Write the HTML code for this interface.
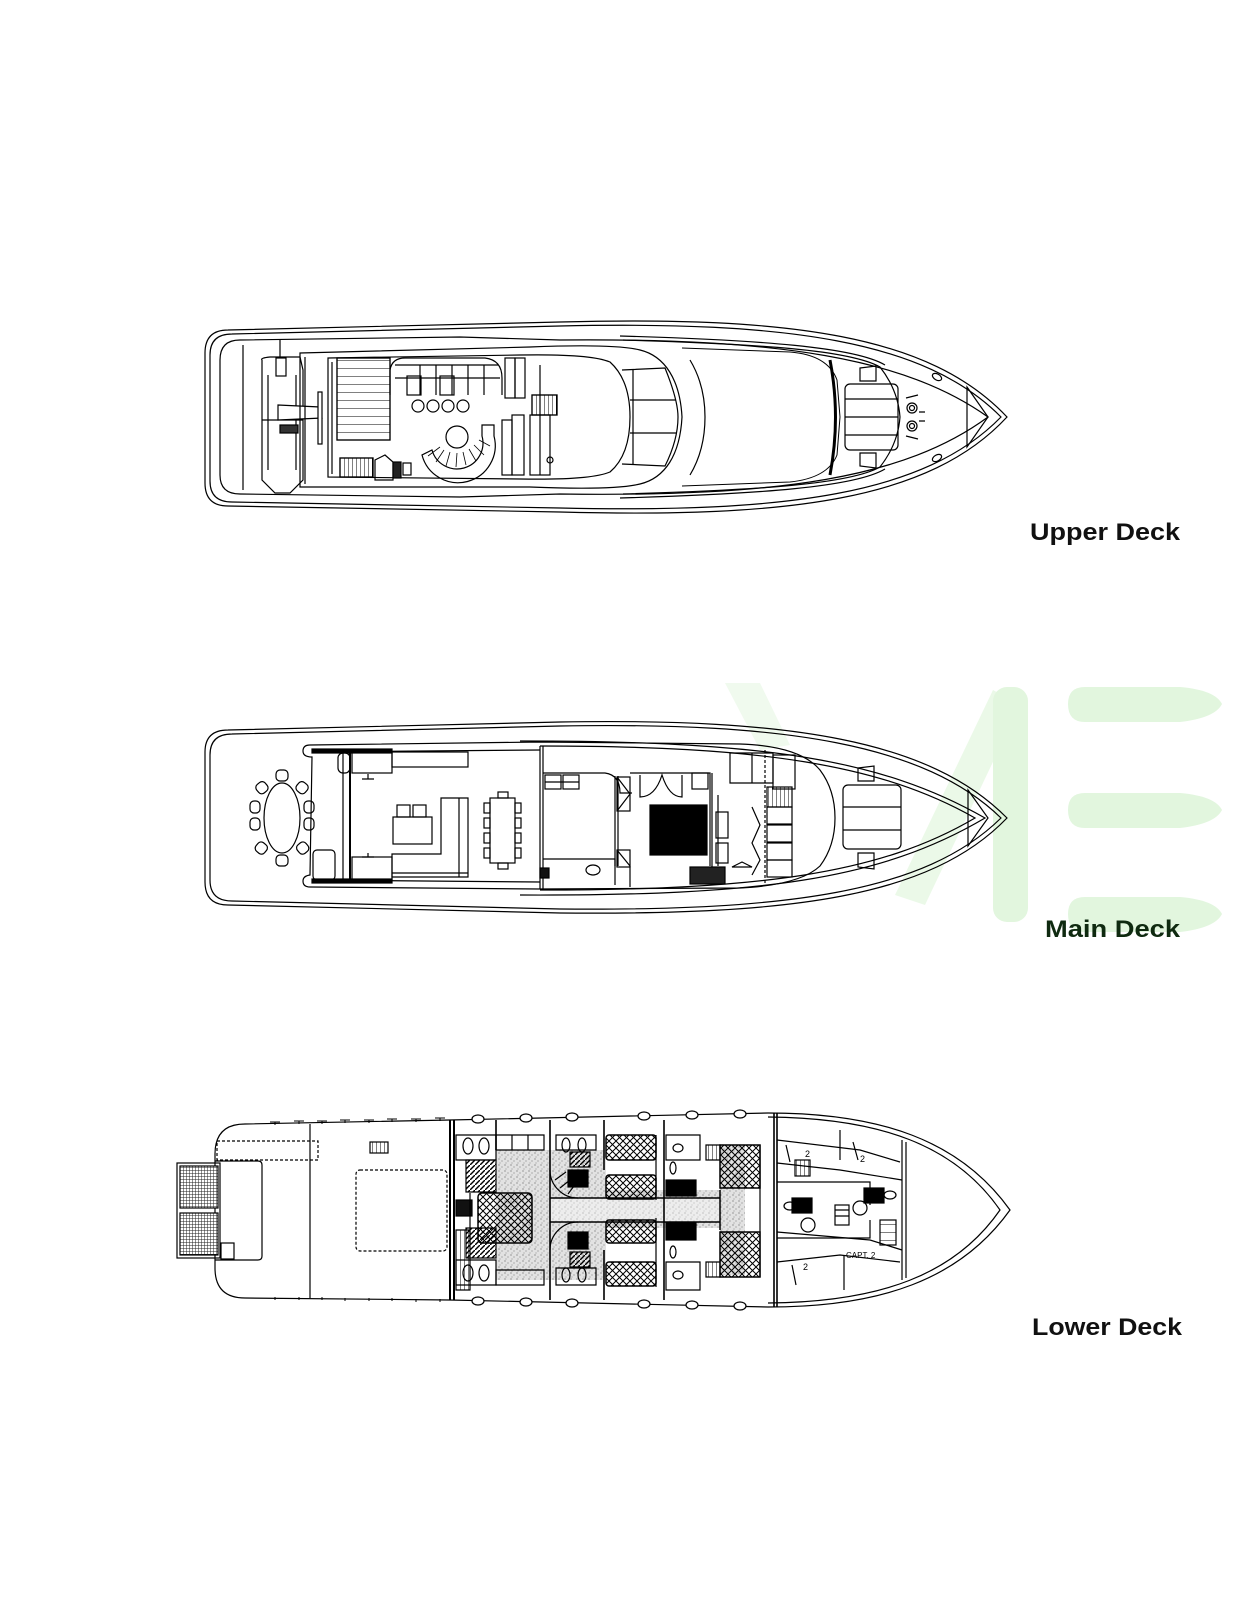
<!DOCTYPE html>
<html><head><meta charset="utf-8"><style>
html,body{margin:0;padding:0;background:#fff;}
svg{display:block;}
text{font-family:"Liberation Sans",sans-serif;}
</style></head><body>
<svg width="1250" height="1619" viewBox="0 0 1250 1619" xmlns="http://www.w3.org/2000/svg">
<defs>
<pattern id="xh" width="7" height="7" patternUnits="userSpaceOnUse"><path d="M0 0L7 7M7 0L0 7" stroke="#000" stroke-width="1"/></pattern>
<pattern id="grid" width="3" height="3" patternUnits="userSpaceOnUse"><rect width="3" height="3" fill="#fff"/><path d="M0 0H3M0 0V3" stroke="#222" stroke-width="1"/></pattern>
<pattern id="hatch" width="5" height="5" patternUnits="userSpaceOnUse"><path d="M0 5L5 0" stroke="#000" stroke-width="1.4"/></pattern>
<pattern id="spk" width="6" height="6" patternUnits="userSpaceOnUse"><rect width="6" height="6" fill="#e2e2e2"/><circle cx="1" cy="1" r=".6" fill="#666"/><circle cx="4" cy="3" r=".6" fill="#888"/><circle cx="2" cy="5" r=".5" fill="#777"/></pattern>
<pattern id="slat" width="4" height="8" patternUnits="userSpaceOnUse"><path d="M0 0H4" stroke="#000" stroke-width="1"/></pattern>
<pattern id="vslat" width="4" height="4" patternUnits="userSpaceOnUse"><path d="M0 0V4" stroke="#000" stroke-width="1"/></pattern>
</defs>

<!-- watermark -->
<g fill="#e2f6de">
<rect x="993" y="687" width="35" height="235" rx="14"/>
<path d="M1085 687H1180Q1215 690 1222 704Q1215 718 1180 722H1085Q1068 722 1068 704Q1068 687 1085 687Z"/>
<path d="M1085 793H1180Q1215 796 1222 810Q1215 824 1180 828H1085Q1068 828 1068 810Q1068 793 1085 793Z"/>
<path d="M1085 897H1180Q1215 900 1222 914Q1215 928 1180 932H1085Q1068 932 1068 914Q1068 897 1085 897Z"/>
<path d="M993 690L1020 705L925 905L895 895Z" opacity=".7"/>
<path d="M725 683L760 683L790 745L760 750Z" opacity=".5"/>
</g>

<g fill="none" stroke="#000" stroke-width="1.2">
<!-- ================= UPPER DECK ================= -->
<path d="M228 330L560 322C790 316 930 335 1007 417C930 500 790 518 560 512L228 506Q205 506 205 483L205 353Q205 330 228 330Z"/>
<path d="M232 334L560 326C785 321 925 340 1001 417C925 495 785 513 560 508L232 502Q210 502 210 481L210 355Q210 334 232 334Z"/>
<path d="M240 340L460 337L560 340C780 338 905 358 988 417C905 478 780 497 560 494L460 497L240 494Q220 494 220 475L220 360Q220 340 240 340Z"/>
<path d="M243 345L243 490"/>
<!-- foredeck rail -->
<path d="M623 340C760 344 850 350 880 367Q898 390 900 417Q898 444 880 467C850 484 760 490 623 494"/>
<path d="M620 336C760 340 855 347 885 365M620 498C760 494 855 487 885 469"/>
<!-- tender -->
<path d="M262 360Q260 358 270 357L300 357L303 370L303 480L290 493L275 493L262 480Z"/>
<path d="M268 375L268 470M296 375L296 470M262 420L303 420"/>
<rect x="276" y="358" width="10" height="18"/>
<path d="M280 340V358"/>
<path d="M278 405L320 407L322 418L278 420Z" fill="#fff"/>
<rect x="318" y="392" width="4" height="52" fill="#fff"/>
<rect x="280" y="425" width="18" height="8" fill="#333"/>
<!-- superstructure -->
<path d="M300 353L530 347C580 345 620 345 640 350C665 356 680 380 682 417C680 455 665 478 640 484C620 489 580 489 530 487L300 487Z"/>
<path d="M305 357L305 484"/>
<path d="M328 358L520 355C580 354 600 358 610 362Q630 380 630 417Q630 455 610 472C600 476 580 480 520 479L328 477Z"/>
<path d="M332 362L332 474"/>
<rect x="337" y="358" width="53" height="82" fill="url(#slat)"/>
<rect x="337" y="358" width="53" height="82"/>
<!-- sofa -->
<path d="M390 395L390 370Q392 358 405 358L485 358Q502 360 502 378L502 395"/>
<path d="M395 365H498M395 378H500M420 365V395M436 365V395M452 365V395M468 365V395M484 365V395"/>
<rect x="407" y="376" width="14" height="19"/><rect x="440" y="376" width="14" height="19"/>
<rect x="505" y="358" width="10" height="40"/><rect x="515" y="358" width="10" height="40"/>
<g><ellipse cx="418" cy="406" rx="6" ry="6"/><ellipse cx="433" cy="406" rx="6" ry="6"/><ellipse cx="448" cy="406" rx="6" ry="6"/><ellipse cx="463" cy="406" rx="6" ry="6"/></g>
<!-- spiral -->
<path d="M422 455A37 37 0 0 0 494 436L494 425L482 425L482 436A25 25 0 0 1 432 450Z"/>
<g stroke-width=".8"><path d="M428 456L440 447M436 462L444 450M446 466L450 452M456 467L457 453M466 465L463 452M476 461L469 449M484 455L474 445M490 446L479 440"/></g>
<circle cx="457" cy="437" r="11"/>
<rect x="340" y="458" width="33" height="19" fill="url(#vslat)"/><rect x="340" y="458" width="33" height="19"/>
<path d="M375 480L375 460L385 455L393 462L393 480Z"/>
<rect x="393" y="462" width="8" height="16" fill="#222"/><rect x="403" y="463" width="8" height="12"/>
<rect x="502" y="420" width="10" height="55"/><rect x="512" y="415" width="12" height="60"/>
<rect x="532" y="395" width="25" height="20" fill="url(#vslat)"/><rect x="532" y="395" width="25" height="20"/>
<rect x="530" y="415" width="20" height="60"/>
<circle cx="550" cy="460" r="3"/>
<path d="M540 365V475"/>
<!-- windows -->
<path d="M622 370L665 368Q678 400 678 417Q678 440 665 466L622 464"/>
<path d="M633 369L633 465M630 400H676M630 433H676"/>
<path d="M690 360Q705 385 705 417Q705 450 690 475"/>
<!-- windshield -->
<path d="M682 348L790 352Q828 355 837 380L840 417L837 455Q828 478 790 482L682 486" stroke-width="1"/>
<path d="M830 360Q841 417 830 475" stroke-width="3"/>
<!-- bow items -->
<rect x="845" y="384" width="53" height="66" rx="5"/>
<path d="M845 399H898M845 417H898M845 435H898"/>
<path d="M860 368L876 366L876 381L860 381Z"/><path d="M860 453L876 453L876 468L860 466Z"/>
<circle cx="912" cy="408" r="5"/><circle cx="912" cy="408" r="2.5"/>
<circle cx="912" cy="426" r="5"/><circle cx="912" cy="426" r="2.5"/>
<path d="M906 398L918 395M906 436L918 439M919 412H925M919 421H925"/>
<ellipse cx="937" cy="377" rx="5" ry="3" transform="rotate(30 937 377)"/>
<ellipse cx="937" cy="458" rx="5" ry="3" transform="rotate(-30 937 458)"/>
<path d="M967 387L988 417L967 447Z"/>

<!-- ================= MAIN DECK ================= -->
<path d="M228 730L560 722C790 718 930 740 1007 818C930 898 790 915 560 913L228 905Q205 905 205 882L205 752Q205 730 228 730Z"/>
<path d="M232 734L560 726C785 722 925 744 1001 818C925 893 785 911 560 909L232 901Q210 901 210 880L210 755Q210 734 232 734Z"/>
<path d="M520 741C760 741 880 758 985 818C880 880 760 896 520 895"/>
<path d="M540 746C760 746 880 764 975 818C880 874 760 890 540 890"/>
<!-- house -->
<path d="M310 745L540 742L740 744Q800 746 820 770Q835 790 835 818Q835 846 820 866Q800 885 740 888L540 889L310 887Q303 887 303 881Q303 876 310 875L312 757Q303 757 303 751Q303 745 310 745Z"/>
<path d="M312 752L540 750M312 880L540 882"/>
<rect x="312" y="749" width="80" height="4" fill="#000"/>
<rect x="312" y="879" width="80" height="4" fill="#000"/>
<path d="M350 753V882" stroke-width="2"/>
<path d="M343 753V882"/>
<rect x="352" y="752" width="40" height="21"/>
<rect x="392" y="752" width="76" height="15"/>
<rect x="338" y="753" width="12" height="20" rx="5"/>
<path d="M315" />
<rect x="313" y="850" width="22" height="30" rx="4"/>
<path d="M368 774V779M362 779H374M368 853V857M362 857H374"/>
<rect x="352" y="857" width="40" height="23"/>
<!-- aft dining -->
<ellipse cx="282" cy="818" rx="18" ry="35"/>
<g>
<rect x="276" y="770" width="12" height="11" rx="4"/><rect x="276" y="855" width="12" height="11" rx="4"/>
<rect x="250" y="801" width="10" height="12" rx="4"/><rect x="250" y="818" width="10" height="12" rx="4"/>
<rect x="304" y="801" width="10" height="12" rx="4"/><rect x="304" y="818" width="10" height="12" rx="4"/>
<rect x="256" y="782" width="11" height="11" rx="4" transform="rotate(-40 262 787)"/>
<rect x="297" y="782" width="11" height="11" rx="4" transform="rotate(40 302 787)"/>
<rect x="256" y="843" width="11" height="11" rx="4" transform="rotate(40 262 848)"/>
<rect x="297" y="843" width="11" height="11" rx="4" transform="rotate(-40 302 848)"/>
</g>
<!-- salon -->
<rect x="393" y="817" width="39" height="27"/>
<rect x="397" y="805" width="13" height="12"/><rect x="413" y="805" width="13" height="12"/>
<path d="M392 877V854H441V798H468V877Z"/>
<path d="M459 798V877M392 873H468"/>
<rect x="490" y="798" width="25" height="65"/>
<rect x="498" y="792" width="10" height="6"/><rect x="498" y="863" width="10" height="6"/>
<g><rect x="484" y="803" width="6" height="10"/><rect x="484" y="818" width="6" height="10"/><rect x="484" y="833" width="6" height="10"/><rect x="484" y="848" width="6" height="10"/>
<rect x="515" y="803" width="6" height="10"/><rect x="515" y="818" width="6" height="10"/><rect x="515" y="833" width="6" height="10"/><rect x="515" y="848" width="6" height="10"/></g>
<path d="M540 746V889M543 746V889"/>
<rect x="540" y="868" width="9" height="10" fill="#111"/>
<!-- cabin -->
<path d="M543 773H605Q620 775 620 793H632"/>
<rect x="545" y="775" width="16" height="14"/><rect x="563" y="775" width="16" height="14"/>
<path d="M545 782H579"/>
<path d="M543 859H615V885"/>
<ellipse cx="593" cy="870" rx="7" ry="5"/>
<path d="M615 776V866M618 776V866"/>
<rect x="617" y="777" width="13" height="34"/><path d="M617 777L630 794L617 811"/>
<rect x="617" y="850" width="13" height="17"/><path d="M617 850L630 866"/>
<path d="M630 773H710V866M630 866V887"/>
<path d="M640 775V797Q655 797 662 775Q669 797 682 797V775"/>
<rect x="650" y="805" width="57" height="50" fill="#000"/>
<rect x="692" y="773" width="16" height="16"/>
<path d="M712 773V870M718 795V866"/>
<rect x="716" y="812" width="12" height="26"/>
<rect x="716" y="843" width="12" height="20"/>
<rect x="690" y="867" width="35" height="17" fill="#222"/>
<!-- forward -->
<path d="M730 753H773V783H730Z"/><path d="M752 753V783"/>
<rect x="773" y="755" width="22" height="34"/>
<path d="M765 750V885" stroke-dasharray="3 2"/>
<rect x="767" y="787" width="25" height="20" fill="url(#vslat)"/>
<g><rect x="767" y="807" width="25" height="17"/><rect x="767" y="825" width="25" height="17"/><rect x="767" y="843" width="25" height="17"/><rect x="767" y="860" width="25" height="17"/></g>
<path d="M752 807L760 825L752 843L760 860L752 875"/>
<path d="M732 867L742 862L752 867Z"/>
<!-- bow -->
<rect x="843" y="785" width="58" height="64" rx="5"/>
<path d="M843 807H901M843 830H901"/>
<path d="M858 768L874 766L874 781L858 781Z"/><path d="M858 853L874 853L874 869L858 867Z"/>
<path d="M968 790L988 818L968 846Z"/>

<!-- ================= LOWER DECK ================= -->
<path d="M245 1124L450 1120L768 1113C880 1113 960 1140 1010 1210C960 1280 880 1307 768 1307L450 1300L245 1298Q215 1298 215 1268L215 1154Q215 1124 245 1124Z"/>
<path d="M768 1117C880 1118 955 1145 1000 1210C955 1275 880 1302 768 1303"/>
<g stroke-width="1"><path d="M275 1125v-3M299 1124v-3M322 1124v-3M345 1123v-3M369 1123v-3M392 1122v-3M416 1122v-3M440 1121v-3M270 1122h10M294 1121h10M317 1121h10M340 1120h10M364 1120h10M387 1119h10M411 1119h10M435 1118h10"/>
<path d="M275 1297v3M299 1297v3M322 1297v3M345 1298v3M369 1298v3M392 1298v3M416 1299v3M440 1299v3"/></g>
<rect x="177" y="1163" width="43" height="95"/>
<rect x="180" y="1166" width="38" height="42" fill="url(#grid)"/>
<rect x="180" y="1213" width="38" height="42" fill="url(#grid)"/>
<path d="M215 1161H258Q262 1161 262 1165V1256Q262 1260 258 1260H215"/>
<rect x="221" y="1243" width="13" height="16"/>
<path d="M310 1124V1298"/>
<rect x="217" y="1141" width="101" height="19" stroke-dasharray="3 2"/>
<rect x="356" y="1170" width="91" height="81" rx="4" stroke-dasharray="3 2"/>
<rect x="370" y="1142" width="18" height="11" fill="url(#vslat)"/>
<path d="M450 1120V1300M454 1120V1300" stroke-width="2"/>
<!-- speckled circulation -->
<path d="M496 1150H550V1190H720V1145H745V1275H720V1228H550V1280H496Z" fill="url(#spk)" stroke="none"/>
<path d="M550 1150H606V1280H550Z" fill="url(#spk)" stroke="none"/>
<path d="M550 1198H720V1222H550Z" fill="#fff" opacity=".4" stroke="none"/>
<path d="M550 1198H720M550 1222H720M720 1190V1230" stroke-width="1.5"/>
<!-- walls -->
<path d="M496 1120V1150M550 1120V1300M604 1120V1170M604 1250V1300M664 1120V1300M774 1113V1307" stroke-width="1.6"/>
<path d="M777 1113V1307" stroke-width="1.6"/>
<path d="M902 1140V1280M906 1142V1278"/>
<!-- portholes -->
<g fill="#fff"><ellipse cx="478" cy="1119" rx="6" ry="4"/><ellipse cx="526" cy="1118" rx="6" ry="4"/><ellipse cx="572" cy="1117" rx="6" ry="4"/><ellipse cx="644" cy="1116" rx="6" ry="4"/><ellipse cx="692" cy="1115" rx="6" ry="4"/><ellipse cx="740" cy="1114" rx="6" ry="4"/>
<ellipse cx="478" cy="1301" rx="6" ry="4"/><ellipse cx="526" cy="1302" rx="6" ry="4"/><ellipse cx="572" cy="1303" rx="6" ry="4"/><ellipse cx="644" cy="1304" rx="6" ry="4"/><ellipse cx="692" cy="1305" rx="6" ry="4"/><ellipse cx="740" cy="1306" rx="6" ry="4"/></g>
<!-- heads -->
<path d="M456 1135H496V1160H456ZM456 1260H496V1285H456Z"/>
<ellipse cx="468" cy="1146" rx="5" ry="8"/><ellipse cx="484" cy="1146" rx="5" ry="8"/>
<ellipse cx="468" cy="1273" rx="5" ry="8"/><ellipse cx="484" cy="1273" rx="5" ry="8"/>
<rect x="466" y="1160" width="30" height="32" fill="url(#hatch)"/>
<rect x="466" y="1228" width="30" height="30" fill="url(#hatch)"/>
<rect x="456" y="1200" width="16" height="16" fill="#111"/>
<path d="M456 1230H470V1290H456Z" fill="url(#vslat)"/>
<path d="M496 1135H544V1150H496ZM512 1135V1150M528 1135V1150"/>
<path d="M496 1270H544V1285H496Z"/>
<path d="M556 1135H596V1150H556ZM556 1268H596V1285H556Z"/>
<ellipse cx="566" cy="1145" rx="4" ry="7"/><ellipse cx="582" cy="1145" rx="4" ry="7"/>
<ellipse cx="566" cy="1275" rx="4" ry="7"/><ellipse cx="582" cy="1275" rx="4" ry="7"/>
<rect x="570" y="1152" width="20" height="15" fill="url(#hatch)"/>
<rect x="570" y="1252" width="20" height="15" fill="url(#hatch)"/>
<!-- beds -->
<g stroke-width="1.5">
<rect x="478" y="1193" width="54" height="50" rx="4" fill="url(#xh)"/>
<rect x="606" y="1135" width="50" height="25" rx="3" fill="url(#xh)"/>
<rect x="606" y="1175" width="50" height="24" rx="3" fill="url(#xh)"/>
<rect x="606" y="1220" width="50" height="23" rx="3" fill="url(#xh)"/>
<rect x="606" y="1262" width="50" height="24" rx="3" fill="url(#xh)"/>
<rect x="720" y="1145" width="40" height="43" fill="url(#xh)"/>
<rect x="720" y="1232" width="40" height="45" fill="url(#xh)"/>
</g>
<path d="M470 1193V1243M656 1135V1200M656 1218V1287M760 1145V1277"/>
<!-- spiral stairs -->
<path d="M550 1170A28 28 0 0 0 578 1198M550 1250A28 28 0 0 1 578 1222"/>
<path d="M555 1180L566 1172M560 1188L570 1180M568 1194L574 1186"/>
<!-- black squares -->
<g fill="#000"><rect x="568" y="1170" width="20" height="17"/><rect x="568" y="1232" width="20" height="17"/>
<rect x="666" y="1180" width="30" height="16"/><rect x="666" y="1223" width="30" height="17"/>
<rect x="792" y="1198" width="20" height="15"/><rect x="864" y="1188" width="20" height="15"/></g>
<path d="M666 1135H700V1160H666ZM666 1262H700V1290H666Z"/>
<ellipse cx="678" cy="1148" rx="5" ry="4"/><ellipse cx="678" cy="1275" rx="5" ry="4"/>
<ellipse cx="673" cy="1168" rx="3" ry="6"/><ellipse cx="673" cy="1252" rx="3" ry="6"/>
<path d="M706 1145h14v15h-14ZM706 1262h14v15h-14Z" fill="url(#vslat)"/>
<!-- crew -->
<path d="M777 1140L860 1150L900 1162M777 1163L840 1170L902 1180M777 1232L870 1240L902 1250M777 1262L840 1255L900 1262"/>
<path d="M777 1182H870V1205M777 1238H870V1220"/>
<path d="M840 1130V1160M844 1255V1290"/>
<rect x="795" y="1160" width="15" height="16" fill="url(#vslat)"/>
<rect x="835" y="1205" width="14" height="20"/>
<path d="M835 1210H849M835 1216H849"/>
<circle cx="808" cy="1225" r="7"/><circle cx="860" cy="1208" r="7"/>
<ellipse cx="790" cy="1206" rx="6" ry="4"/><ellipse cx="890" cy="1195" rx="6" ry="4"/>
<rect x="880" y="1220" width="16" height="25" fill="url(#slat)"/>
<path d="M786 1145L790 1162M853 1142L858 1160M792 1265L796 1285"/>
</g>
<g font-size="9" fill="#000">
<text x="805" y="1157">2</text><text x="860" y="1162">2</text><text x="803" y="1270">2</text>
<text x="846" y="1258" font-size="8">CAPT. 2</text>
</g>

<!-- labels -->
<text x="1030" y="540" font-size="24" font-weight="bold" fill="#111" textLength="150" lengthAdjust="spacingAndGlyphs">Upper Deck</text>
<text x="1045" y="937" font-size="24" font-weight="bold" fill="#0f2a10" textLength="135" lengthAdjust="spacingAndGlyphs">Main Deck</text>
<text x="1032" y="1335" font-size="24" font-weight="bold" fill="#111" textLength="150" lengthAdjust="spacingAndGlyphs">Lower Deck</text>
</svg>
</body></html>
